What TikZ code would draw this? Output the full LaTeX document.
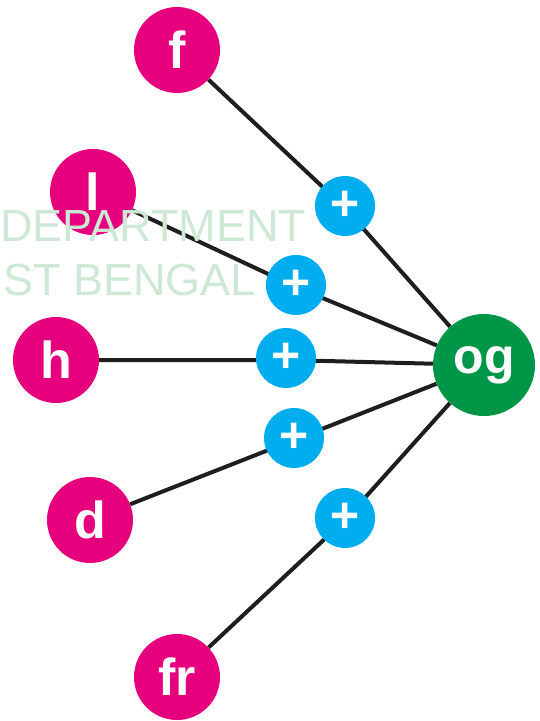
\documentclass[tikz,border=0pt]{standalone}
\usepackage{fontspec}
\setmainfont{Liberation Sans}
\definecolor{mag}{RGB}{230,0,126}
\definecolor{cy}{RGB}{0,174,239}
\definecolor{gr}{RGB}{0,150,72}
\definecolor{wm}{RGB}{205,232,212}
\definecolor{ln}{RGB}{30,30,30}
\begin{document}
\begin{tikzpicture}[x=1pt,y=-1pt,
  outer/.style={circle,fill=mag,minimum size=86pt,inner sep=0pt,text=white,font=\fontsize{52}{52}\selectfont\bfseries},
  hub/.style={circle,fill=gr,minimum size=102pt,inner sep=0pt,text=white,font=\fontsize{50}{50}\selectfont\bfseries},
  plusn/.style={circle,fill=cy,minimum size=60pt,inner sep=0pt,text=white,font=\fontsize{50}{50}\selectfont\bfseries},
  conn/.style={draw=ln,line width=4pt},
  wmark/.style={text=wm,font=\fontsize{45}{45}\selectfont,anchor=base west,inner sep=0pt}]
\useasboundingbox (0,0) rectangle (540,721);
\node[outer] (f) at (177,50) {f};
\node[outer] (l) at (93,192) {l};
\node[outer] (h) at (56,360) {h};
\node[outer] (d) at (90,520) {d};
\node[outer] (fr) at (177,677) {fr};
\node[hub] (og) at (484,365) {og};
\coordinate (c1) at (345,208);
\coordinate (c2) at (296,287);
\coordinate (c3) at (286,360);
\coordinate (c4) at (294,440);
\coordinate (c5) at (345,520);
\draw[conn] (f) -- (c1) -- (og);
\draw[conn] (l) -- (c2) -- (og);
\draw[conn] (h) -- (c3) -- (og);
\draw[conn] (d) -- (c4) -- (og);
\draw[conn] (fr) -- (c5) -- (og);
\node[plusn,yshift=2pt] (p1) at (c1) {+};
\node[plusn,yshift=2pt] (p2) at (c2) {+};
\node[plusn,yshift=2pt] (p3) at (c3) {+};
\node[plusn,yshift=2pt] (p4) at (c4) {+};
\node[plusn,yshift=2pt] (p5) at (c5) {+};
\node[wmark] (w1) at (0,241) {DEPARTMENT};
\node[wmark] (w2) at (3,295) {ST BENGAL};
\end{tikzpicture}
\end{document}
